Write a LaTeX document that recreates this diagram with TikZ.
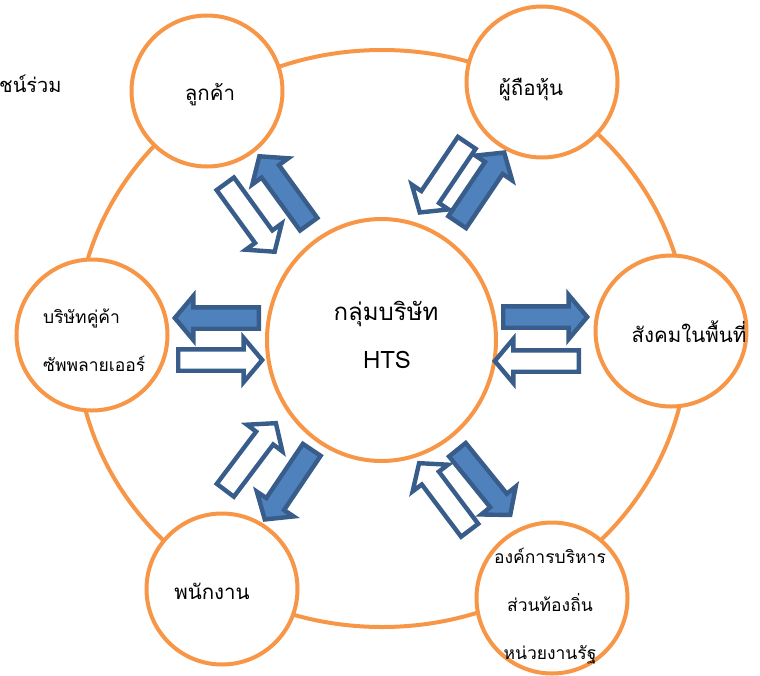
\documentclass[tikz,border=0pt]{standalone}
\usepackage{fontspec}
\usepackage{tikz}
\usetikzlibrary{shapes.arrows,shapes.geometric}
\newfontfamily\thaifont[Script=Thai]{Loma}
\definecolor{orange}{RGB}{247,150,70}
\definecolor{blue}{RGB}{79,129,189}
\definecolor{darkblue}{RGB}{56,93,138}
\tikzset{
  party/.style={circle, draw=orange, line width=4pt, fill=white, minimum size=151pt, inner sep=0pt},
  fullarrow/.style={single arrow, draw=darkblue, fill=blue, line width=4.4pt, minimum height=84pt,
    inner xsep=0pt, inner ysep=8.5pt, single arrow head extend=11.5pt, single arrow tip angle=100, anchor=tail},
  openarrow/.style={fullarrow, fill=white},
  bigtext/.style={font=\thaifont\fontsize{20.5}{24}\selectfont, inner sep=0pt, anchor=base},
  smalltext/.style={font=\thaifont\fontsize{17.5}{48}\selectfont, inner sep=0pt},
}

\begin{document}
\begin{tikzpicture}[x=1pt, y=-1pt]
    \useasboundingbox (0,0) rectangle (760,675);
    % Outer ring behind the circles
    \draw[orange, line width=4pt] (382,338.5) ellipse (306 and 288.5);
    \node[bigtext, anchor=base west, font=\thaifont\fontsize{20}{24}\selectfont] (title) at (-1,92) {ชน์ร่วม};
    % Circles
    \node[ellipse, draw=orange, line width=4pt, fill=white, minimum width=229pt, minimum height=242pt] (hts) at (381.5,340) {};
    \node[party] (cust) at (207,91) {};
    \node[party] (share) at (542,82) {};
    \node[party] (society) at (671,331) {};
    \node[party] (partner) at (92,335) {};
    \node[party] (staff) at (222,589) {};
    \node[party] (gov) at (552,598) {};
    % Labels
    \node[bigtext, font=\thaifont\fontsize{24}{28}\selectfont] (htsname) at (386,320) {กลุ่มบริษัท};
    \node[bigtext, font=\thaifont\fontsize{24}{28}\selectfont] (htscode) at (387,368) {HTS};
    \node[bigtext] (custname) at (210,100) {ลูกค้า};
    \node[bigtext] (sharename) at (531,95) {ผู้ถือหุ้น};
    \node[bigtext] (societyname) at (689,342) {สังคมในพื้นที่};
    \node[bigtext] (staffname) at (212,599) {พนักงาน};
    \node[smalltext, align=left, anchor=west] (partnername) at (43,340) {บริษัทคู่ค้า\\ซัพพลายเออร์};
    \node[smalltext, align=center] (govname) at (550,606) {องค์การบริหาร\\ส่วนท้องถิ่น\\หน่วยงานรัฐ};
    % Arrows between the company and each group
    \node[fullarrow, rotate=126] (custout) at (310,226) {};
    \node[openarrow, rotate=-54] (custin) at (224,182) {};
    \node[fullarrow, rotate=56] (shareout) at (456,224) {};
    \node[openarrow, rotate=-124] (sharein) at (468,141) {};
    \node[fullarrow, rotate=0] (societyout) at (501,317) {};
    \node[openarrow, rotate=180] (societyin) at (581,361) {};
    \node[fullarrow, rotate=180] (partnerout) at (261,318) {};
    \node[openarrow, rotate=0] (partnerin) at (176,360) {};
    \node[fullarrow, rotate=-124] (staffout) at (313,448) {};
    \node[openarrow, rotate=53] (staffin) at (224,492) {};
    \node[fullarrow, rotate=-51] (govout) at (456,448) {};
    \node[openarrow, rotate=127] (govin) at (471,532) {};
\end{tikzpicture}
\end{document}
